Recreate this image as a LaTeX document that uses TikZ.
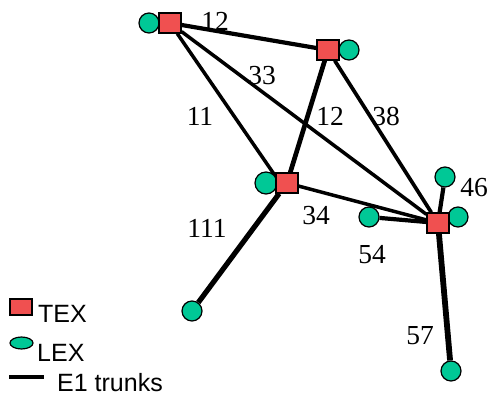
\documentclass[tikz,border=0pt]{standalone}
\usepackage{fontspec}
\setmainfont{Liberation Serif}
\setsansfont{Liberation Sans}
\usetikzlibrary{shapes.geometric,backgrounds}
\definecolor{texred}{RGB}{240,80,80}
\definecolor{lexgreen}{RGB}{0,200,150}
\tikzset{
  texbox/.style={rectangle, draw=black, fill=texred, line width=1.2pt, minimum width=22pt, minimum height=20pt, inner sep=0pt},
  lexdot/.style={circle, draw=black, fill=lexgreen, line width=1.2pt, minimum size=20pt, inner sep=0pt},
  trunk/.style={line width=#1, draw=black},
  trunk/.default=3.5pt,
  lbl/.style={font=\fontsize{27.5}{27.5}\selectfont, inner sep=0pt},
  leg/.style={font=\sffamily\fontsize{25}{25}\selectfont, inner sep=0pt, anchor=base west}
}
\begin{document}
\begin{tikzpicture}[x=1pt,y=-1pt]
\useasboundingbox (0,0) rectangle (490,395);
% LEX nodes
\node[lexdot] (la) at (149,23) {};
\node[lexdot] (lb) at (349,50) {};
\node[lexdot, minimum width=22pt] (lc) at (266,183) {};
\node[lexdot] (lt) at (445,177) {};
\node[lexdot] (lr) at (458,217) {};
\node[lexdot] (ll) at (369,217) {};
\node[lexdot] (lbl) at (192,311) {};
\node[lexdot] (lbot) at (451,371) {};
% TEX nodes
\node[texbox] (a) at (170,23) {};
\node[texbox] (b) at (328,50) {};
\node[texbox] (c) at (287,183) {};
\node[texbox] (d) at (438,223) {};
\coordinate (cj) at (276,177);
% trunks
\begin{scope}[on background layer]
\draw[trunk=4.2pt] (a) -- (b);
\draw[trunk=3.5pt] (a) -- (cj);
\draw[trunk=3.5pt] (a) -- (d);
\draw[trunk=4.7pt] (b) -- (c);
\draw[trunk=3.7pt] (b) -- (d);
\draw[trunk=3.5pt] (c) -- (d);
\draw[trunk=5.2pt] (c) -- (lbl);
\draw[trunk=4.2pt] (d) -- (ll);
\draw[trunk=4.2pt] (d) -- (lt);
\draw[trunk=5.8pt] (d) -- (lbot);
\end{scope}
% labels
\node[lbl] (t12a) at (215,21) {12};
\node[lbl] (t33) at (262,76) {33};
\node[lbl] (t11) at (200,116) {11};
\node[lbl] (t12b) at (330,116) {12};
\node[lbl] (t38) at (386,116) {38};
\node[lbl] (t34) at (316,216) {34};
\node[lbl] (t111) at (207,228) {111};
\node[lbl] (t46) at (474,188) {46};
\node[lbl] (t54) at (372,255) {54};
\node[lbl] (t57) at (420,336) {57};
% legend
\node[rectangle, draw=black, fill=texred, line width=1.2pt, minimum width=22pt, minimum height=16pt, inner sep=0pt] (legtex) at (21,307) {};
\node[leg] (legtext) at (38,323) {TEX};
\node[ellipse, draw=black, fill=lexgreen, line width=1.2pt, minimum width=23pt, minimum height=12pt, inner sep=0pt] (leglex) at (21.5,343) {};
\node[leg] (leglext) at (37,362) {LEX};
\coordinate (legl1) at (9,377);
\coordinate (legl2) at (44,377);
\draw[trunk=4pt] (legl1) -- (legl2);
\node[leg] (legtr) at (57,391) {E1 trunks};
\end{tikzpicture}
\end{document}
